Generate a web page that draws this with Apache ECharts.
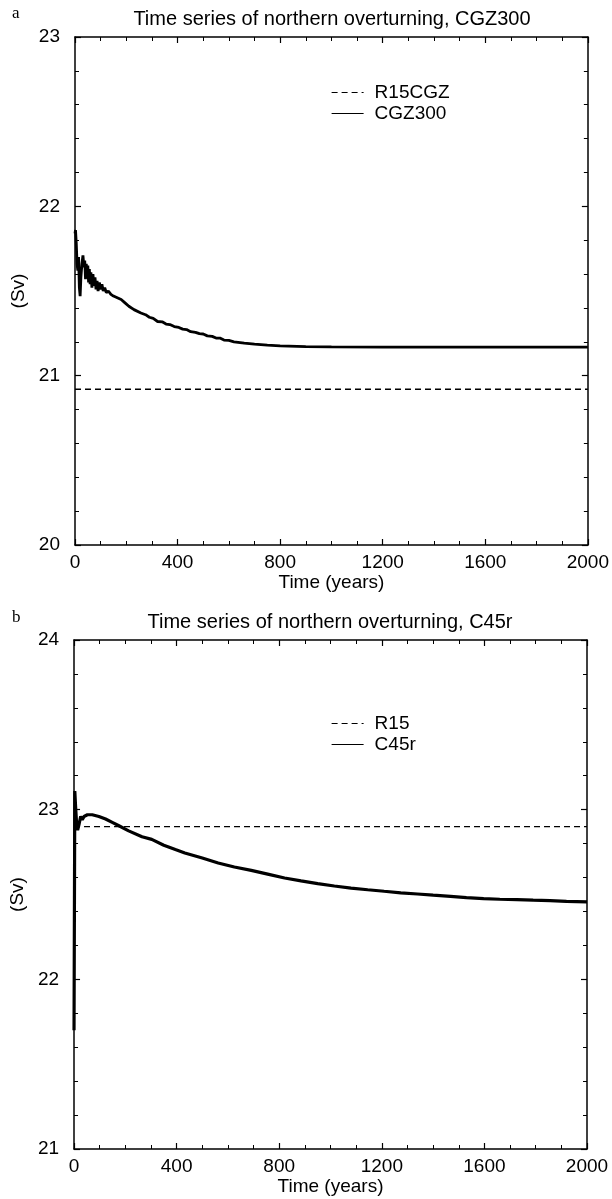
<!DOCTYPE html>
<html><head><meta charset="utf-8">
<script src="https://cdn.jsdelivr.net/npm/echarts@6/dist/echarts.min.js"></script>
<style>html,body{margin:0;padding:0;background:#fff}#c{width:612px;height:1199px}</style>
</head><body><div id="c"></div>
<script>
// ---- Panel a data ----
const cgzYears = [0,2,5,8,11,14,17,20,23,27,31,35,38,41,44,47,50,53,56,59,62,66,70,74,78,82,86,90,95,100,105,110,116,122,130,140,150,165,180,195,210,230,257,275,290,305,322,340,355,370,387,405,420,435,451,470,485,500,516,535,550,565,581,600,620,660,700,750,800,900,1000,1200,1400,1600,1800,2000];
const cgzValues = [21.84,21.86,21.78,21.66,21.62,21.70,21.52,21.47,21.58,21.66,21.71,21.64,21.68,21.57,21.66,21.58,21.65,21.55,21.63,21.54,21.61,21.52,21.60,21.53,21.58,21.51,21.56,21.50,21.55,21.51,21.54,21.50,21.52,21.49,21.50,21.48,21.47,21.46,21.45,21.43,21.41,21.39,21.37,21.36,21.345,21.338,21.32,21.318,21.305,21.302,21.29,21.285,21.275,21.272,21.26,21.256,21.248,21.246,21.235,21.232,21.222,21.222,21.21,21.208,21.20,21.192,21.186,21.18,21.176,21.172,21.17,21.168,21.168,21.168,21.168,21.168];
const r15cgzYears = [0,2000];
const r15cgzValues = [20.92,20.92];
// ---- Panel b data ----
const c45rYears = [0,3,6,10,14,19,26,32,39,52,71,97,123,149,175,213,265,303,350,395,432,500,562,625,691,755,821,885,950,1015,1080,1145,1209,1274,1339,1400,1468,1530,1597,1660,1727,1790,1856,1920,2000];
const c45rValues = [21.7,23.11,23.02,22.92,22.88,22.91,22.96,22.94,22.96,22.97,22.97,22.96,22.945,22.925,22.905,22.875,22.84,22.825,22.79,22.765,22.745,22.715,22.686,22.662,22.642,22.62,22.597,22.58,22.564,22.55,22.538,22.528,22.519,22.51,22.503,22.496,22.489,22.482,22.476,22.472,22.47,22.467,22.464,22.46,22.456];
const r15Years = [0,2000];
const r15Values = [22.90,22.90];
// ---- tick labels ----
const xTickLabels = [0,400,800,1200,1600,2000];
const yTicksA = [20,21,22,23];
const yTicksB = [21,22,23,24];

const SANS = '"Liberation Sans", Arial, sans-serif';
const SERIF = '"Liberation Serif", "Times New Roman", serif';
const FS = 19;

function pairs(xs, ys){ return xs.map((x,i)=>[x, ys[i]]); }

function xAxisPair(g){
  const base = {
    type:'value', gridIndex:g, min:xTickLabels[0], max:xTickLabels[xTickLabels.length-1], interval:400,
    axisLine:{onZero:false, lineStyle:{color:'#000', width:1.5}},
    axisTick:{inside:true, length:6, lineStyle:{color:'#000', width:1.2}},
    minorTick:{show:true, splitNumber:4, length:4, lineStyle:{color:'#000', width:1}},
    splitLine:{show:false}, minorSplitLine:{show:false}
  };
  return [
    Object.assign({}, base, {position:'bottom',
      axisLabel:{color:'#000', fontSize:FS, margin:8, fontFamily:SANS, formatter:v=>String(v)},
      name:'Time (years)', nameLocation:'middle', nameGap:27,
      nameTextStyle:{color:'#000', fontSize:FS, fontFamily:SANS}}),
    Object.assign({}, base, {position:'top', axisLabel:{show:false}})
  ];
}
function yAxisPair(g, ticks, gap){
  const base = {
    type:'value', gridIndex:g, min:ticks[0], max:ticks[ticks.length-1], interval:1,
    axisLine:{onZero:false, lineStyle:{color:'#000', width:1.5}},
    axisTick:{inside:true, length:6, lineStyle:{color:'#000', width:1.2}},
    minorTick:{show:true, splitNumber:5, length:4, lineStyle:{color:'#000', width:1}},
    splitLine:{show:false}, minorSplitLine:{show:false}
  };
  return [
    Object.assign({}, base, {position:'left',
      axisLabel:{color:'#000', fontSize:FS, margin:15, fontFamily:SANS},
      name:'(Sv)', nameLocation:'middle', nameGap:gap,
      nameTextStyle:{color:'#000', fontSize:FS, fontFamily:SANS}}),
    Object.assign({}, base, {position:'right', axisLabel:{show:false}})
  ];
}
function legendAt(names, top){
  return {data:names, orient:'vertical', left:326, top:top, itemWidth:32, itemHeight:12, itemGap:2,
    selectedMode:false, itemStyle:{opacity:0, color:'rgba(0,0,0,0)', borderWidth:0},
    textStyle:{color:'#000', fontSize:FS, fontFamily:SANS, padding:[0,0,0,6]}, lineStyle:{width:1.2}};
}

const chart = echarts.init(document.getElementById('c'), null, {renderer:'canvas'});
chart.setOption({
  animation:false,
  backgroundColor:'#fff',
  grid:[
    {left:75, right:23, top:37, height:508},
    {left:72, right:25, top:640, height:509}
  ],
  xAxis:[...xAxisPair(0), ...xAxisPair(1)],
  yAxis:[...yAxisPair(0, yTicksA, 44), ...yAxisPair(1, yTicksB, 41)],
  legend:[ legendAt(['R15CGZ','CGZ300'], 78), legendAt(['R15','C45r'], 709) ],
  graphic:[
    {type:'text', left:12, top:5, style:{text:'a', font:'17px '+SERIF, fill:'#000'}},
    {type:'text', x:332, y:19, style:{text:'Time series of northern overturning, CGZ300', textAlign:'center', textVerticalAlign:'middle', font:'20px '+SANS, fill:'#000'}},
    {type:'text', left:12, top:609, style:{text:'b', font:'17px '+SERIF, fill:'#000'}},
    {type:'text', x:330, y:622, style:{text:'Time series of northern overturning, C45r', textAlign:'center', textVerticalAlign:'middle', font:'20px '+SANS, fill:'#000'}}
  ],
  series:[
    {name:'R15CGZ', type:'line', xAxisIndex:0, yAxisIndex:0, data:pairs(r15cgzYears, r15cgzValues),
     symbol:'none', lineStyle:{color:'#000', width:1.4, type:[6,4]}, itemStyle:{color:'#000'}},
    {name:'CGZ300', type:'line', xAxisIndex:0, yAxisIndex:0, data:pairs(cgzYears, cgzValues),
     symbol:'none', lineStyle:{color:'#000', width:2.8}, itemStyle:{color:'#000'}},
    {name:'R15', type:'line', xAxisIndex:2, yAxisIndex:2, data:pairs(r15Years, r15Values),
     symbol:'none', lineStyle:{color:'#000', width:1.4, type:[6,4]}, itemStyle:{color:'#000'}},
    {name:'C45r', type:'line', xAxisIndex:2, yAxisIndex:2, data:pairs(c45rYears, c45rValues),
     symbol:'none', lineStyle:{color:'#000', width:3.2}, itemStyle:{color:'#000'}}
  ]
});
</script></body></html>
